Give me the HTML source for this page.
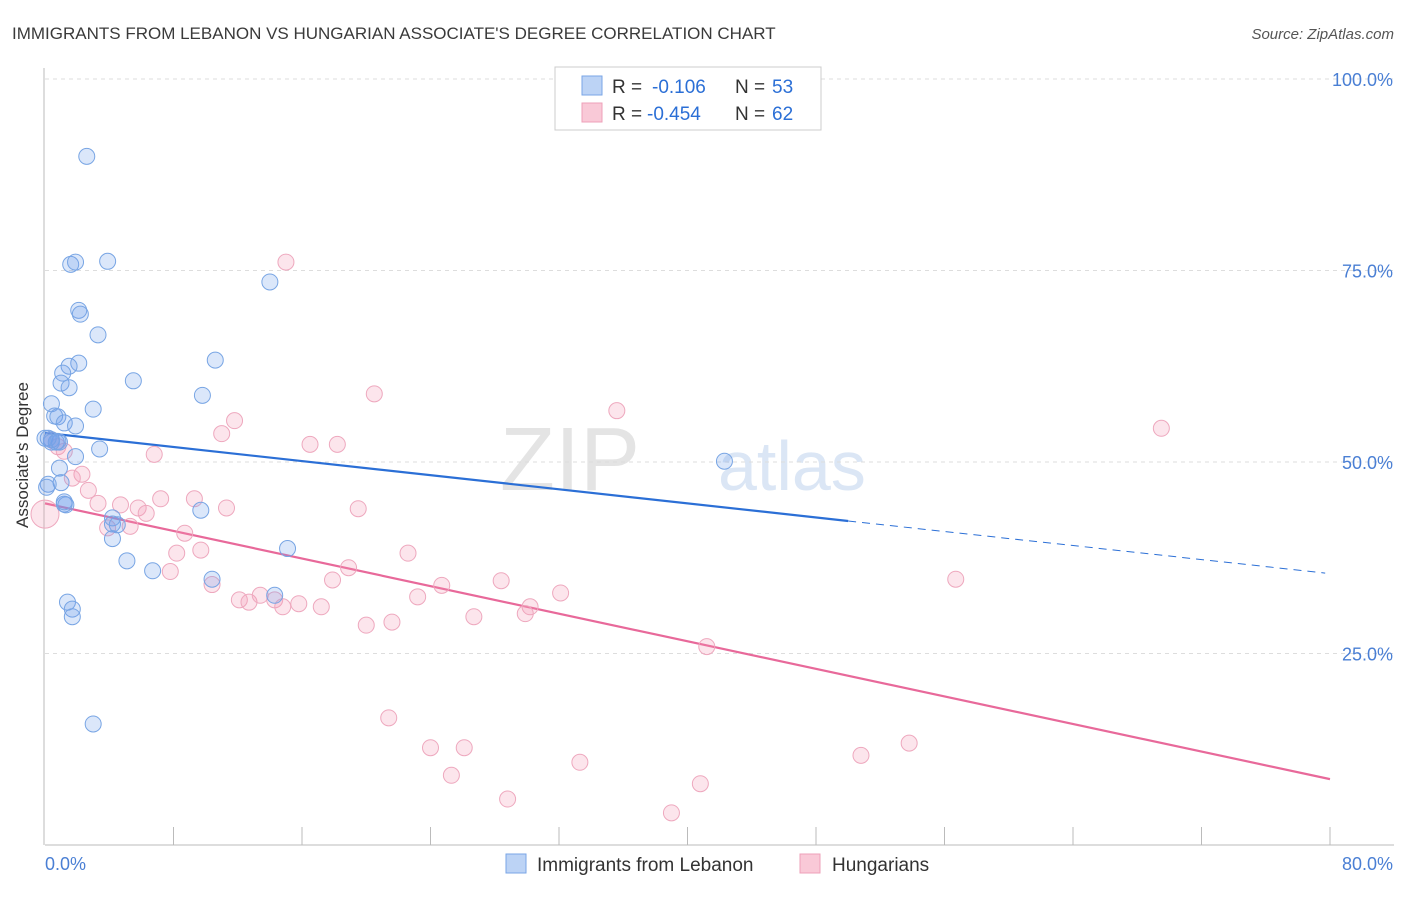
<!DOCTYPE html>
<html><head><meta charset="utf-8"><style>
body{margin:0;background:#fff;font-family:"Liberation Sans",sans-serif}
svg text{font-family:"Liberation Sans",sans-serif}
</style></head><body>
<svg id="chart" width="1406" height="892" xmlns="http://www.w3.org/2000/svg">
<text x="12" y="39" font-size="17" fill="#3a3a3a">IMMIGRANTS FROM LEBANON VS HUNGARIAN ASSOCIATE'S DEGREE CORRELATION CHART</text>
<text x="1394" y="39" font-size="15" fill="#555" text-anchor="end" font-style="italic">Source: ZipAtlas.com</text>
<text x="640" y="490" font-size="90" fill="#e4e4e4" font-family="Liberation Serif" text-anchor="end">ZIP</text>
<text x="718" y="490" font-size="70" fill="#dbe6f5">atlas</text>
<g id="grid"></g><g id="axes"></g><g id="lines"></g><g id="points"></g>
<text x="28" y="455" font-size="17" fill="#333" text-anchor="middle" transform="rotate(-90 28 455)">Associate's Degree</text>
<g>
<rect x="555" y="67" width="266" height="63" fill="#fff" stroke="#ccc"/>
<rect x="582" y="76" width="20" height="19" fill="#bcd3f5" stroke="#7aa6e6"/>
<rect x="582" y="103" width="20" height="19" fill="#f9c9d7" stroke="#eea0b8"/>
<text x="612" y="93" font-size="19" fill="#333">R =</text>
<text x="652" y="93" font-size="19" fill="#2b6fd6">-0.106</text>
<text x="735" y="93" font-size="19" fill="#333">N =</text>
<text x="772" y="93" font-size="19" fill="#2b6fd6">53</text>
<text x="612" y="120" font-size="19" fill="#333">R =</text>
<text x="647" y="120" font-size="19" fill="#2b6fd6">-0.454</text>
<text x="735" y="120" font-size="19" fill="#333">N =</text>
<text x="772" y="120" font-size="19" fill="#2b6fd6">62</text>
</g>
<g>
<rect x="506" y="854" width="20" height="19" fill="#bcd3f5" stroke="#7aa6e6"/>
<text x="537" y="871" font-size="19" fill="#333">Immigrants from Lebanon</text>
<rect x="800" y="854" width="20" height="19" fill="#f9c9d7" stroke="#eea0b8"/>
<text x="832" y="871" font-size="19" fill="#333">Hungarians</text>
</g>
</svg>
<script>
const yTicks=[25,50,75,100];
const yTickLabels=["25.0%","50.0%","75.0%","100.0%"];
const xTickVals=[0,8,16,24,32,40,48,56,64,72,80];
const blueX=[2.6,1.6,1.9,3.9,14.0,2.1,2.2,3.3,2.1,10.6,1.5,1.1,1.0,1.5,5.5,9.8,3.0,0.4,0.6,0.8,1.2,1.9,0.4,0.7,0.9,0.0,3.4,1.9,0.9,1.0,0.2,1.2,1.3,9.7,4.2,4.2,4.5,4.2,15.1,5.1,6.7,10.4,14.3,1.4,1.7,1.7,3.0,42.3,0.2,0.4,0.1,1.2,0.8];
const blueY=[89.9,75.8,76.1,76.2,73.5,69.8,69.3,66.6,62.9,63.3,62.5,61.6,60.3,59.7,60.6,58.7,56.9,57.6,56.0,55.9,55.1,54.7,52.9,52.6,52.6,53.1,51.7,50.7,49.2,47.3,47.1,44.5,44.4,43.7,42.7,41.9,41.8,40.0,38.7,37.1,35.8,34.7,32.6,31.7,30.8,29.8,15.8,50.1,53.1,52.6,46.7,44.8,52.7];
const pinkX=[15.0,20.5,35.6,69.5,11.8,11.0,16.5,18.2,6.8,0.8,1.2,2.3,1.7,2.7,3.3,4.7,5.8,6.3,7.2,9.3,11.3,5.3,3.9,8.7,8.2,9.7,19.5,22.6,18.9,7.8,10.4,12.1,12.7,13.4,14.3,14.8,15.8,17.2,17.9,23.2,24.7,28.4,32.1,26.7,30.2,29.9,20.0,21.6,41.2,56.7,21.4,24.0,26.1,25.3,33.3,28.8,39.0,40.8,50.8,53.8,0.0,0.4];
const pinkY=[76.1,58.9,56.7,54.4,55.4,53.7,52.3,52.3,51.0,52.0,51.4,48.4,47.9,46.3,44.6,44.4,44.0,43.3,45.2,45.2,44.0,41.6,41.4,40.7,38.1,38.5,43.9,38.1,36.2,35.7,34.0,32.0,31.7,32.6,32.0,31.1,31.5,31.1,34.6,32.4,33.9,34.5,32.9,29.8,31.1,30.2,28.7,29.1,25.9,34.7,16.6,12.7,12.7,9.1,10.8,6.0,4.2,8.0,11.7,13.3,43.2,52.9];
const blueLine=[[0,53.8],[50,42.3]], blueDash=[[50,42.3],[79.7,35.5]];
const pinkLine=[[0,44.6],[80,8.6]];
const NS="http://www.w3.org/2000/svg";
const X0=45,X1=1330,Y0=845,Y100=79;
const sx=v=>X0+(X1-X0)*v/80, sy=v=>Y0-(Y0-Y100)*v/100;
function mk(tag,attrs,parent){const e=document.createElementNS(NS,tag);for(const k in attrs)e.setAttribute(k,attrs[k]);document.getElementById(parent).appendChild(e);return e;}
yTicks.forEach((t,i)=>{
 const g=mk('line',{x1:X0,x2:1394,y1:sy(t),y2:sy(t),stroke:'#ddd','stroke-dasharray':'4,4'},'grid');
 
 
 const l=mk('text',{x:1393,y:sy(t)+7,'font-size':18,fill:'#4a7fd4','text-anchor':'end'},'axes');
 l.textContent=yTickLabels[i];
 
 
});
const ax=mk('line',{x1:X0,x2:1394,y1:Y0,y2:Y0,stroke:'#bbb'},'axes');


const ay=mk('line',{x1:X0-1,x2:X0-1,y1:68,y2:Y0,stroke:'#bbb'},'axes');


xTickVals.forEach(t=>{if(t===0)return;
 const e=mk('line',{x1:sx(t),x2:sx(t),y1:Y0,y2:Y0-18,stroke:'#bbb'},'axes');
 
 });
const xl=mk('text',{x:45,y:870,'font-size':18,fill:'#4a7fd4'},'axes');xl.textContent='0.0%';


const xr=mk('text',{x:1393,y:870,'font-size':18,fill:'#4a7fd4','text-anchor':'end'},'axes');xr.textContent='80.0%';


function ln(p,col,dash,name){const e=mk('line',{x1:sx(p[0][0]),y1:sy(p[0][1]),x2:sx(p[1][0]),y2:sy(p[1][1]),stroke:col,'stroke-width':dash?1:2.2},'lines');if(dash)e.setAttribute('stroke-dasharray','8,6');
 
 }
ln(blueLine,'#2b6fd6',false,'lebanon-trend-line');ln(blueDash,'#2b6fd6',true,'lebanon-trend-extension');ln(pinkLine,'#e8699a',false,'hungarian-trend-line');
function pts(xs,ys,fill,stroke,name){xs.forEach((x,i)=>{const c=mk('circle',{cx:sx(x),cy:sy(ys[i]),r:(i===xs.length-2&&name==='hungarian-point')?14:8,fill:fill,stroke:stroke,'stroke-width':1},'points');
 
 });}
pts(pinkX,pinkY,'rgba(242,150,180,0.25)','#eea8be','hungarian-point');
pts(blueX,blueY,'rgba(110,160,235,0.25)','#78a5e4','lebanon-point');
</script>
</body></html>
